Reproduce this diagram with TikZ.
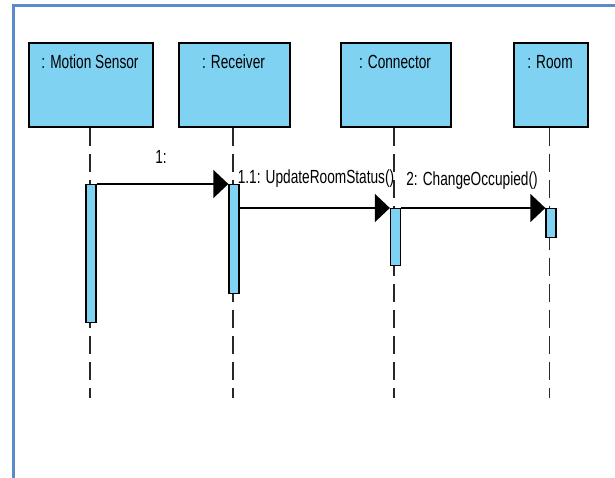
\documentclass[tikz,border=0pt]{standalone}
\usepackage{fontspec}
\setmainfont{Liberation Sans}[FakeStretch=0.72]
\usetikzlibrary{arrows.meta}
\definecolor{framecol}{RGB}{90,138,200}
\definecolor{objfill}{RGB}{128,210,243}
\definecolor{lifecol}{RGB}{40,40,40}
\begin{document}
\begin{tikzpicture}[x=1pt,y=-1pt,
  objbox/.style={draw=black, line width=1.6pt, fill=objfill, rectangle,
    anchor=north west, inner sep=0pt},
  objname/.style={font=\fontsize{19}{22}\selectfont, text=black},
  lifeline/.style={draw=lifecol, line width=1.1pt, dash pattern=on 18pt off 8pt},
  actbox/.style={draw=black, line width=1.3pt, fill=objfill, rectangle,
    anchor=north, minimum width=10pt, inner sep=0pt},
  msg/.style={draw=black, line width=1.5pt,
    -{Triangle[length=15pt,width=28pt]}},
  msglabel/.style={font=\fontsize{19}{22}\selectfont, text=black, inner sep=0pt}
]
\useasboundingbox (0,0) rectangle (615,478);
\clip (0,0) rectangle (615,478);

% surrounding frame (open to the right and bottom)
\draw[framecol, line width=3pt] (13,490) -- (13,6) -- (630,6);

% object heads
\node[objbox, minimum width=124pt, minimum height=84pt] (ms)  at (28,42)  {};
\node[objbox, minimum width=111pt, minimum height=84pt] (rec) at (178,42) {};
\node[objbox, minimum width=110pt, minimum height=84pt] (con) at (340,42) {};
\node[objbox, minimum width=74pt,  minimum height=84pt] (room) at (513,42) {};

\node[objname] (msn)   at (90,62)  {: Motion Sensor};
\node[objname] (recn)  at (233.5,62) {: Receiver};
\node[objname] (conn)  at (395,62) {: Connector};
\node[objname] (roomn) at (550,62) {: Room};

% lifeline ends
\coordinate (msend)   at (90,398);
\coordinate (recend)  at (233,398);
\coordinate (conend)  at (394,398);
\coordinate (roomend) at (549.5,398);

\draw[lifeline] (ms.south -| msend) -- (msend);
\draw[lifeline] (rec.south -| recend) -- (recend);
\draw[lifeline] (con.south -| conend) -- (conend);
\draw[lifeline] (room.south -| roomend) -- (roomend);

% activation bars
\node[actbox, minimum height=138pt] (msact)   at (91,184)  {};
\node[actbox, minimum height=109pt] (recact)  at (234,184) {};
\node[actbox, minimum height=57pt]  (conact)  at (395.5,208) {};
\node[actbox, minimum height=29pt]  (roomact) at (551,208) {};

% messages
\draw[msg] (msact.north east) -- (recact.north west);
\draw[msg] (recact.east |- conact.north) -- (conact.north west);
\draw[msg] (conact.north east) -- (roomact.north west);

\node[msglabel] (l1)  at (161,157) {1:};
\node[msglabel] (l11) at (316,179) {1.1: UpdateRoomStatus()};
\node[msglabel] (l2)  at (472,181) {2: ChangeOccupied()};
\end{tikzpicture}
\end{document}
